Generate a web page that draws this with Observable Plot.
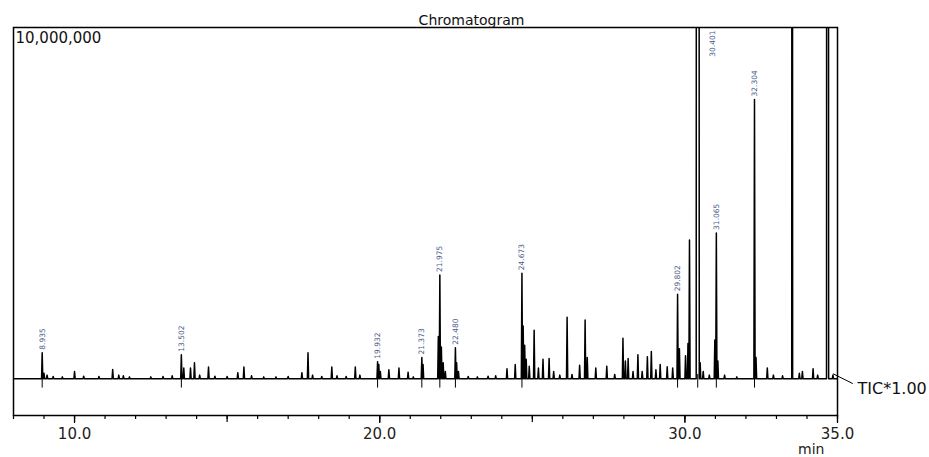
<!DOCTYPE html>
<html><head><meta charset="utf-8">
<script src="https://cdn.jsdelivr.net/npm/d3@7"></script>
<script src="https://cdn.jsdelivr.net/npm/@observablehq/plot@0.6"></script>
<style>body{margin:0;background:#fff} svg{display:block}</style>
</head><body><div id="chart"></div>
<script>
// Retention time (min) and height (millions of counts) of every visible peak
const peakTimes = [8.94, 9.0, 9.1, 9.3, 9.6, 10.0, 10.3, 10.8, 11.25, 11.45, 11.6, 11.8, 12.5, 12.9, 13.2, 13.5, 13.58, 13.8, 13.93, 14.1, 14.39, 14.6, 15.0, 15.35, 15.55, 15.8, 16.2, 16.6, 17.0, 17.45, 17.65, 17.8, 18.1, 18.43, 18.6, 18.9, 19.2, 19.35, 19.93, 19.97, 20.02, 20.3, 20.63, 20.93, 21.1, 21.38, 21.42, 21.92, 21.97, 22.02, 22.08, 22.15, 22.48, 22.52, 22.58, 22.9, 23.2, 23.55, 23.8, 24.17, 24.44, 24.66, 24.7, 24.75, 24.8, 24.9, 25.06, 25.2, 25.35, 25.55, 25.7, 25.9, 26.14, 26.3, 26.55, 26.73, 26.8, 27.08, 27.44, 27.7, 27.97, 28.05, 28.14, 28.3, 28.46, 28.6, 28.77, 28.9, 29.05, 29.19, 29.42, 29.6, 29.76, 29.82, 30.02, 30.1, 30.15, 30.5, 30.6, 30.8, 30.98, 31.03, 31.08, 31.3, 31.7, 32.28, 32.33, 32.7, 32.9, 33.2, 33.75, 33.85, 34.2, 34.35, 34.85];
const peakHeights = [0.74, 0.15, 0.1, 0.06, 0.05, 0.2, 0.07, 0.06, 0.26, 0.1, 0.08, 0.05, 0.05, 0.06, 0.08, 0.68, 0.3, 0.3, 0.45, 0.1, 0.33, 0.07, 0.06, 0.17, 0.33, 0.08, 0.05, 0.05, 0.06, 0.17, 0.74, 0.1, 0.06, 0.33, 0.08, 0.06, 0.33, 0.1, 0.48, 0.4, 0.2, 0.25, 0.3, 0.18, 0.05, 0.6, 0.4, 1.2, 2.95, 0.9, 0.45, 0.2, 0.88, 0.45, 0.2, 0.06, 0.05, 0.07, 0.08, 0.28, 0.4, 3.0, 1.5, 0.95, 0.55, 0.35, 1.38, 0.3, 0.55, 0.57, 0.2, 0.1, 1.75, 0.12, 0.38, 1.67, 0.6, 0.3, 0.35, 0.12, 1.15, 0.5, 0.57, 0.2, 0.68, 0.2, 0.62, 0.77, 0.25, 0.4, 0.34, 0.3, 2.4, 0.85, 0.65, 1.0, 3.95, 0.45, 0.2, 0.1, 1.1, 4.15, 0.5, 0.1, 0.05, 7.95, 0.6, 0.3, 0.1, 0.08, 0.15, 0.2, 0.28, 0.1, 0.1];
// Off-scale (saturated) peaks: time the signal leaves and returns to baseline
const saturatedStart = [30.37, 33.50, 34.64];
const saturatedEnd   = [30.47, 33.53, 34.71];
const saturatedLevel = 14;   // above full scale (unknown), millions
// Peak annotations
const labelTimes = [8.94, 13.5, 19.93, 21.38, 21.97, 22.48, 24.66, 29.76, 30.42, 31.03, 32.28];
const labelTexts = ["8.935", "13.502", "19.932", "21.373", "21.975", "22.480", "24.673", "29.802", "30.401", "31.065", "32.304"];
// Axes
const xMin = 8, xMax = 35;
const yMin = -1.05e6, yMax = 10e6;
const minorTicks = d3.range(8, 36, 1);
const midTicks = [10, 15, 20, 25, 30, 35];
const labelledTicks = [10, 20, 30, 35];
const titleText = "Chromatogram";
const traceName = "TIC*1.00";
const unitText = "min";

const hw = 0.02;
const points = [{t: xMin, v: 0}, {t: xMax, v: 0}];
peakTimes.forEach((t, i) => {
  points.push({t: t - hw, v: 0}, {t, v: peakHeights[i] * 1e6}, {t: t + hw, v: 0});
});
saturatedStart.forEach((s, i) => {
  const e = saturatedEnd[i];
  points.push({t: s, v: 0}, {t: s + 0.004, v: saturatedLevel * 1e6}, {t: e - 0.004, v: saturatedLevel * 1e6}, {t: e, v: 0});
});
points.sort((a, b) => a.t - b.t);

const labelRows = labelTimes.map((t, i) => {
  const k = peakTimes.indexOf(t);
  return {t, label: labelTexts[i], h: k >= 0 ? peakHeights[k] * 1e6 : null};
});

const font = "DejaVu Sans, Verdana, sans-serif";
const chart = Plot.plot({
  width: 929, height: 457,
  marginLeft: 13, marginRight: 92, marginTop: 27, marginBottom: 42,
  x: {domain: [xMin, xMax]},
  y: {domain: [yMin, yMax], axis: null},
  style: {fontFamily: font, background: "white", overflow: "visible", color: "black"},
  marks: [
    Plot.line(points, {x: "t", y: "v", stroke: "black", strokeWidth: 1.5, clip: true}),
    Plot.ruleX(labelTimes, {y1: 0.12e6, y2: -0.27e6, stroke: "black", strokeWidth: 1}),
    Plot.text(labelRows.filter(d => d.h != null), {x: "t", y: "h", text: "label", rotate: -90, textAnchor: "start", dy: -3, fontSize: 7.5, fill: "#4a5b8c"}),
    Plot.text(labelRows.filter(d => d.h == null), {x: "t", frameAnchor: "top", text: "label", rotate: -90, textAnchor: "end", dx: 12, dy: 3, fontSize: 7.5, fill: "#4a5b8c"}),
    Plot.frame({stroke: "black", strokeWidth: 1.5}),
    Plot.axisX(minorTicks, {tickSize: 4, tickFormat: () => "", label: null, strokeWidth: 1.2}),
    Plot.axisX(midTicks, {tickSize: 7, tickFormat: () => "", label: null, strokeWidth: 1.2}),
    Plot.axisX(labelledTicks, {tickSize: 8, tickPadding: 5, fontSize: 15, tickFormat: d => d.toFixed(1), label: null, strokeWidth: 1.2, fill: "#222"}),
    Plot.text([unitText], {frameAnchor: "bottom-right", dx: -13, dy: 38, fontSize: 14, fill: "#222"}),
    Plot.text([d3.format(",")(yMax)], {frameAnchor: "top-left", dx: 2, dy: 5, textAnchor: "start", lineAnchor: "top", fontSize: 15, fill: "#111"}),
    Plot.text([titleText], {frameAnchor: "top", dx: 46, dy: -3, lineAnchor: "bottom", fontSize: 14, fill: "#111"}),
    Plot.link([0], {x1: xMax - 0.15, y1: 0.14e6, x2: xMax + 0.5, y2: -0.14e6, stroke: "black", strokeWidth: 1}),
    Plot.text([traceName], {x: xMax, y: 0, dx: 20, dy: 10, textAnchor: "start", fontSize: 16, fill: "#111"})
  ]
});
document.getElementById("chart").append(chart);
</script>
</body></html>
